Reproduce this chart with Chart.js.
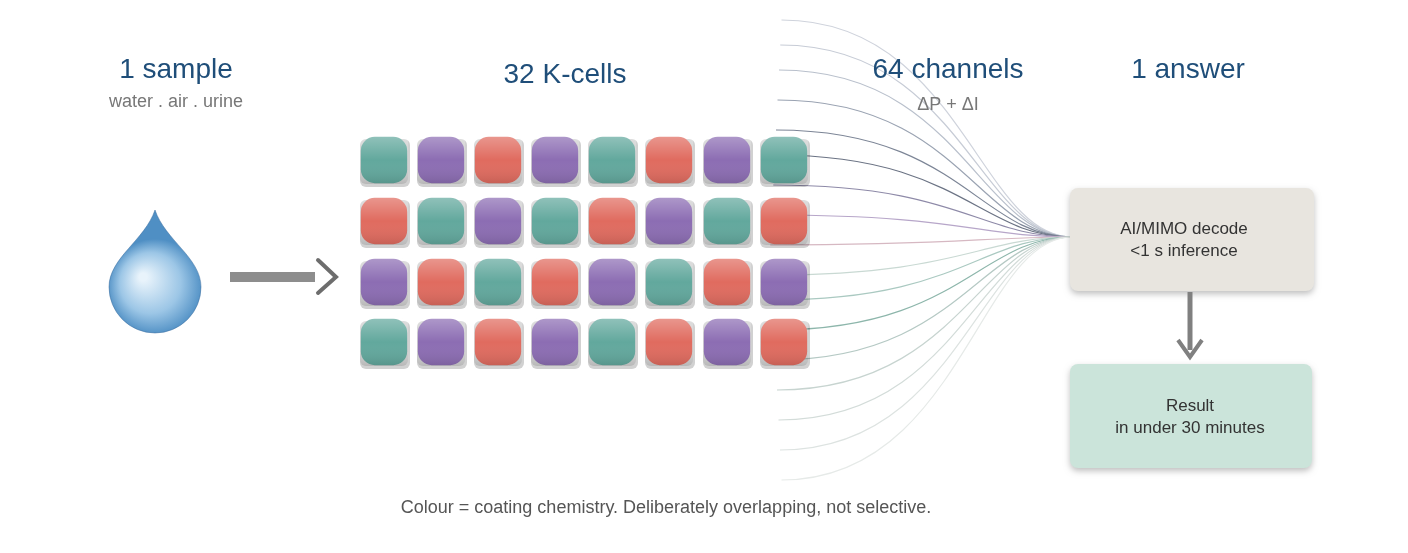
<!DOCTYPE html>
<html><head><meta charset="utf-8">
<script src="https://cdn.jsdelivr.net/npm/chart.js@4"></script>
<style>html,body{margin:0;background:#fff}#w{width:1408px;height:553px}</style>
</head><body><div id="w"><canvas id="c"></canvas></div>
<script>
// ---- data ----
const cellCols = [384, 441, 498, 555, 612, 669, 727, 784];
const cellRows = [160, 221, 282, 342];
const cellChem = [
  ['T','P','R','P','T','R','P','T'],
  ['R','T','P','T','R','P','T','R'],
  ['P','R','T','R','P','T','R','P'],
  ['T','P','R','P','T','R','P','R']
];
const chemColors = {T:'#62a89d', P:'#8c6db3', R:'#e06b5f'};
const channelStartY = [20,45,70,100,130,155,185,215,245,275,300,330,360,390,420,450,480];
const channelColors = ['#cfd3dc','#c7ccd6','#b9c0cc','#9aa3b2','#7c8596','#6b7384','#8e8aa8','#b7a6c9','#d6b8c2','#c9d9d3','#aac9c1','#8db6ab','#b5c9c4','#c7d4d0','#d3dcd9','#dde3e1','#e6eae8'];
const titles = [
  {t:'1 sample', x:176, y:70}, {t:'32 K-cells', x:565, y:75},
  {t:'64 channels', x:948, y:70}, {t:'1 answer', x:1188, y:70}
];
const subtitles = [{t:'water . air . urine', x:176, y:102}, {t:'ΔP + ΔI', x:948, y:105}];
const caption = 'Colour = coating chemistry. Deliberately overlapping, not selective.';

const pts = [], cols = [];
cellRows.forEach((y,r)=>cellCols.forEach((x,c)=>{pts.push({x,y}); cols.push(chemColors[cellChem[r][c]]);}));

function rr(ctx,x,y,w,h,r){ctx.beginPath();ctx.roundRect(x,y,w,h,r);}

const deco = {
  id:'deco',
  beforeDatasetsDraw(ch){
    const {ctx, scales:{x:X,y:Y}} = ch;
    ctx.save();
    channelStartY.forEach((sy,i)=>{
      const x0=X.getPixelForValue(770+Math.abs(sy-250)*0.05), y0=Y.getPixelForValue(sy);
      const x1=X.getPixelForValue(1072), y1=Y.getPixelForValue(237);
      ctx.strokeStyle=channelColors[i]; ctx.lineWidth=1.2;
      ctx.beginPath(); ctx.moveTo(x0,y0);
      ctx.bezierCurveTo(X.getPixelForValue(960),y0,X.getPixelForValue(980),y1,x1,y1); ctx.stroke();
    });
    ctx.fillStyle='rgba(0,0,0,0.18)';
    pts.forEach(p=>{rr(ctx,X.getPixelForValue(p.x)-24,Y.getPixelForValue(p.y)-21,50,48,6);ctx.fill();});
    ctx.restore();
  },
  afterDatasetsDraw(ch){
    const {ctx, scales:{x:X,y:Y}} = ch;
    const px=v=>X.getPixelForValue(v), py=v=>Y.getPixelForValue(v);
    ctx.save();
    pts.forEach(p=>{const g=ctx.createLinearGradient(0,py(p.y)-24,0,py(p.y)+24);
      g.addColorStop(0,'rgba(255,255,255,0.3)');g.addColorStop(0.5,'rgba(255,255,255,0)');g.addColorStop(1,'rgba(0,0,0,0.12)');
      ctx.fillStyle=g; rr(ctx,px(p.x)-24,py(p.y)-24,48,48,6); ctx.fill();});
    ctx.textAlign='center'; ctx.textBaseline='middle';
    ctx.fillStyle='#1f4e79'; ctx.font='28px "Liberation Sans", Arial';
    titles.forEach(t=>ctx.fillText(t.t,px(t.x),py(t.y)));
    ctx.fillStyle='#777'; ctx.font='18px "Liberation Sans", Arial';
    subtitles.forEach(t=>ctx.fillText(t.t,px(t.x),py(t.y)));
    ctx.fillStyle='#555'; ctx.font='18px "Liberation Sans", Arial';
    ctx.fillText(caption,px(666),py(508));
    // drop
    const cx=px(155), cy=py(287);
    const g=ctx.createRadialGradient(cx-12,cy-10,4,cx,cy,48);
    g.addColorStop(0,'#e8f3fb');g.addColorStop(0.6,'#9cc6e6');g.addColorStop(1,'#4f8fc4');
    ctx.fillStyle=g; ctx.beginPath(); ctx.moveTo(cx,py(210));
    ctx.bezierCurveTo(cx+10,py(240),cx+46,py(258),cx+46,py(287));
    ctx.arc(cx,py(287),46,0,Math.PI,false);
    ctx.bezierCurveTo(cx-46,py(258),cx-10,py(240),cx,py(210)); ctx.fill();
    ctx.strokeStyle='rgba(60,110,160,0.5)'; ctx.lineWidth=1; ctx.stroke();
    // arrow
    ctx.fillStyle='#8d8d8d'; ctx.strokeStyle='#6d6d6d';
    ctx.fillRect(px(230),py(272),85,10);
    ctx.lineWidth=4; ctx.lineCap='round'; ctx.beginPath();
    ctx.moveTo(px(318),py(260)); ctx.lineTo(px(336),py(277)); ctx.lineTo(px(318),py(293)); ctx.stroke();
    // boxes
    ctx.shadowColor='rgba(0,0,0,0.25)'; ctx.shadowBlur=6; ctx.shadowOffsetY=3;
    ctx.fillStyle='#e8e5df'; rr(ctx,px(1070),py(188),244,103,8); ctx.fill();
    ctx.fillStyle='#cbe4da'; rr(ctx,px(1070),py(364),242,104,8); ctx.fill();
    ctx.shadowColor='transparent';
    ctx.fillStyle='#333'; ctx.font='17px "Liberation Sans", Arial';
    ctx.fillText('AI/MIMO decode',px(1184),py(229)); ctx.fillText('<1 s inference',px(1184),py(251));
    ctx.fillText('Result',px(1190),py(406)); ctx.fillText('in under 30 minutes',px(1190),py(428));
    ctx.strokeStyle='#808080'; ctx.lineWidth=5; ctx.lineCap='butt';
    ctx.beginPath(); ctx.moveTo(px(1190),py(292)); ctx.lineTo(px(1190),py(350)); ctx.stroke();
    ctx.lineWidth=4; ctx.beginPath(); ctx.moveTo(px(1178),py(340)); ctx.lineTo(px(1190),py(357)); ctx.lineTo(px(1202),py(340)); ctx.stroke();
    ctx.restore();
  }
};

new Chart(document.getElementById('c'),{
  type:'scatter',
  data:{datasets:[{data:pts, backgroundColor:cols, borderWidth:0, pointStyle:'rectRounded', pointRadius:27, pointHoverRadius:27}]},
  options:{responsive:true, maintainAspectRatio:false, animation:false,
    layout:{padding:0, autoPadding:false},
    plugins:{legend:{display:false}, tooltip:{enabled:false}},
    scales:{x:{type:'linear',min:0,max:1408,display:false},
            y:{type:'linear',min:0,max:553,reverse:true,display:false}}},
  plugins:[deco]
});
</script></body></html>
